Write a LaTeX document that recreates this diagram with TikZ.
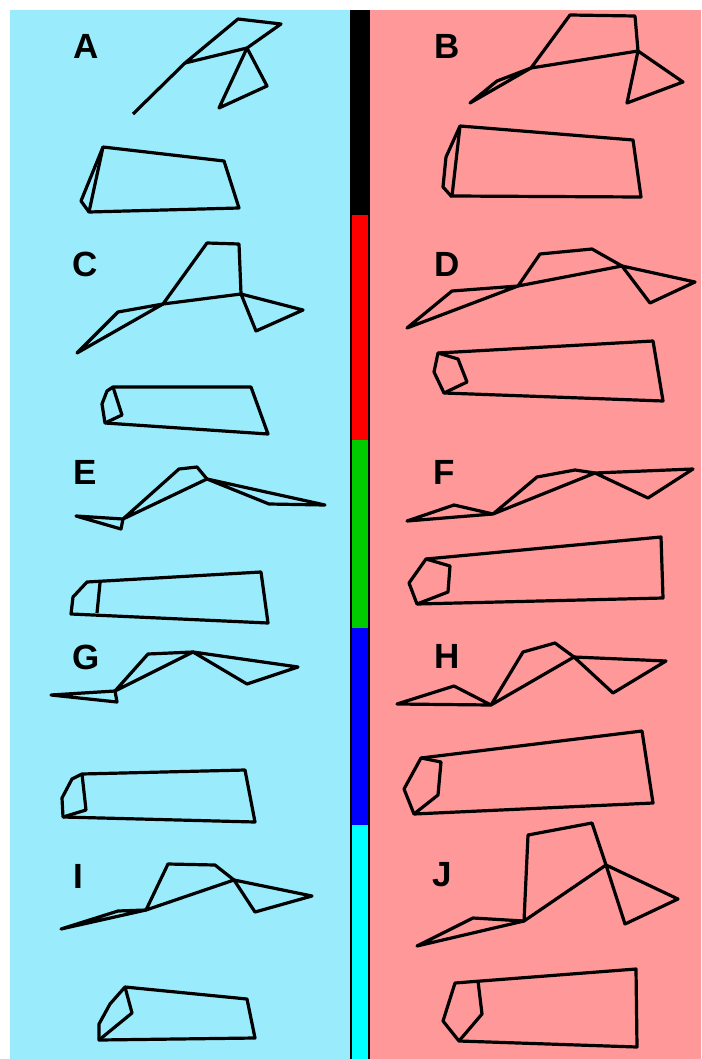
\documentclass[tikz,border=0pt]{standalone}
\usepackage{fontspec}
\setmainfont{Liberation Sans}
\definecolor{skyblue}{RGB}{154,236,252}
\definecolor{rosepink}{RGB}{255,153,153}
\definecolor{bargreen}{RGB}{0,204,0}
\definecolor{barcyan}{RGB}{0,255,255}
\definecolor{barblue}{RGB}{0,0,255}
\definecolor{barred}{RGB}{255,0,0}
\begin{document}
\begin{tikzpicture}[x=1pt, y=-1pt, line width=3.2pt, line join=round,
  tag/.style={font=\fontsize{35}{40}\selectfont\bfseries, inner sep=0pt}]
\useasboundingbox (0,0) rectangle (701,1059);
% two halves
\fill[skyblue] (10,10) rectangle (350,1059);
\fill[rosepink] (370,10) rectangle (701,1059);
% colour bar : black, red, green, blue, cyan
\fill[black] (350,10) rectangle (370,1059);
\fill[barred] (352,215) rectangle (368,440);
\fill[bargreen] (352,440) rectangle (368,628);
\fill[barblue] (352,628) rectangle (368,825);
\fill[barcyan] (352,825) rectangle (368,1059);
% A
\node[tag] (labA) at (86,46) {A};
\draw (133,114) -- (185,63) -- (238,19) -- (281,24) -- (247,48) -- (185,63);
\draw (247,48) -- (267,86) -- (219,108) -- cycle;
\draw (103,147) -- (224,161) -- (239,208) -- (89,212) -- cycle;
\draw (103,147) -- (81,201) -- (89,212);
% B
\node[tag] (labB) at (447,46) {B};
\draw (470,103) -- (497,81) -- (531,68) -- cycle;
\draw (531,68) -- (570,15) -- (635,16) -- (638,51) -- cycle;
\draw (638,51) -- (683,82) -- (627,103) -- cycle;
\draw (460,126) -- (633,140) -- (641,197) -- (452,196) -- cycle;
\draw (460,126) -- (446,157) -- (443,187) -- (452,197);
% C
\node[tag] (labC) at (85,264) {C};
\draw (77,353) -- (118,312) -- (163,304) -- cycle;
\draw (163,304) -- (207,243) -- (239,244) -- (241,294) -- cycle;
\draw (241,294) -- (303,310) -- (256,331) -- cycle;
\draw (113,387) -- (251,387) -- (268,434) -- (105,423) -- (102,404) -- (107,391) -- cycle;
\draw (113,387) -- (122,415) -- (105,423);
% D
\node[tag] (labD) at (447,264) {D};
\draw (407,328) -- (452,291) -- (518,286) -- cycle;
\draw (518,286) -- (540,254) -- (592,249) -- (622,266) -- cycle;
\draw (622,266) -- (695,282) -- (650,303) -- cycle;
\draw (438,353) -- (653,341) -- (663,401) -- (444,393) -- (434,372) -- cycle;
\draw (438,353) -- (458,359) -- (467,382) -- (444,393);
% E
\node[tag] (labE) at (85,472) {E};
\draw (76,516) -- (123,519) -- (121,529) -- cycle;
\draw (123,519) -- (179,469) -- (197,467) -- (207,479) -- cycle;
\draw (207,479) -- (325,505) -- (269,504) -- cycle;
\draw (87,582) -- (261,572) -- (268,623) -- (71,614) -- (73,597) -- cycle;
\draw (100,583) -- (97,613);
% F
\node[tag] (labF) at (444,472) {F};
\draw (407,521) -- (454,505) -- (493,514) -- cycle;
\draw (493,514) -- (537,477) -- (575,470) -- (595,473) -- cycle;
\draw (595,473) -- (693,469) -- (648,498) -- cycle;
\draw (426,559) -- (661,537) -- (663,598) -- (417,604) -- (409,583) -- cycle;
\draw (426,559) -- (450,566) -- (448,592) -- (417,604);
% G
\node[tag] (labG) at (86,657) {G};
\draw (51,695) -- (115,691) -- (117,702) -- cycle;
\draw (115,691) -- (148,654) -- (193,652) -- cycle;
\draw (193,652) -- (298,667) -- (247,684) -- cycle;
\draw (82,774) -- (245,770) -- (255,822) -- (63,817) -- (62,798) -- (72,779) -- cycle;
\draw (82,774) -- (86,810) -- (63,817);
% H
\node[tag] (labH) at (447,656) {H};
\draw (397,704) -- (454,686) -- (491,705) -- cycle;
\draw (491,705) -- (523,652) -- (555,643) -- (574,657) -- cycle;
\draw (574,657) -- (666,661) -- (613,693) -- cycle;
\draw (421,758) -- (642,731) -- (653,803) -- (414,814) -- (404,789) -- cycle;
\draw (421,758) -- (441,762) -- (438,795) -- (414,814);
% I
\node[tag] (labI) at (78,876) {I};
\draw (61,929) -- (118,911) -- (146,910) -- cycle;
\draw (146,910) -- (168,864) -- (215,865) -- (234,880) -- cycle;
\draw (234,880) -- (312,896) -- (255,912) -- cycle;
\draw (125,987) -- (247,999) -- (255,1038) -- (99,1040) -- (99,1024) -- (110,1004) -- cycle;
\draw (125,987) -- (132,1013) -- (99,1040);
% J
\node[tag] (labJ) at (442,875) {J};
\draw (417,946) -- (473,918) -- (524,921) -- cycle;
\draw (524,921) -- (528,835) -- (592,823) -- (606,865) -- cycle;
\draw (606,865) -- (678,899) -- (625,924) -- cycle;
\draw (455,983) -- (636,969) -- (637,1047) -- (459,1041) -- (443,1021) -- cycle;
\draw (478,981) -- (482,1014) -- (459,1041);
\end{tikzpicture}
\end{document}
